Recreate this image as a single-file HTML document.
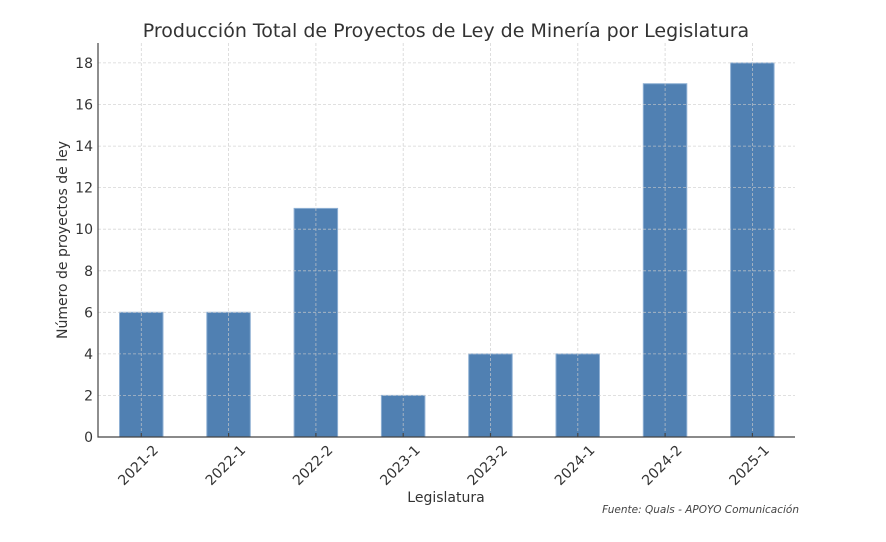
<!DOCTYPE html>
<html><head><style>body{margin:0;background:#fff}svg{display:block}</style></head><body>
<svg width="886" height="542" xmlns="http://www.w3.org/2000/svg" font-family="DejaVu Sans, Liberation Sans, sans-serif">
<rect width="886" height="542" fill="#fff"/>
<text x="446" y="37" text-anchor="middle" font-size="19" fill="#333">Producción Total de Proyectos de Ley de Minería por Legislatura</text>
<g fill="#5080b2" stroke="#8fb0d4" stroke-width="1">
<rect x="119.5" y="312.3" width="43.5" height="124.7"/>
<rect x="206.8" y="312.3" width="43.5" height="124.7"/>
<rect x="294.1" y="208.4" width="43.5" height="228.6"/>
<rect x="381.4" y="395.4" width="43.5" height="41.6"/>
<rect x="468.7" y="353.9" width="43.5" height="83.1"/>
<rect x="556" y="353.9" width="43.5" height="83.1"/>
<rect x="643.3" y="83.7" width="43.5" height="353.3"/>
<rect x="730.6" y="62.9" width="43.5" height="374.1"/>
</g>
<g stroke="#ccc" stroke-width="0.8" stroke-dasharray="3,2" opacity="0.8">
<line x1="98" x2="795" y1="395.4" y2="395.4"/><line x1="98" x2="795" y1="353.9" y2="353.9"/>
<line x1="98" x2="795" y1="312.3" y2="312.3"/><line x1="98" x2="795" y1="270.8" y2="270.8"/>
<line x1="98" x2="795" y1="229.2" y2="229.2"/><line x1="98" x2="795" y1="187.6" y2="187.6"/>
<line x1="98" x2="795" y1="146.1" y2="146.1"/><line x1="98" x2="795" y1="104.5" y2="104.5"/>
<line x1="98" x2="795" y1="62.9" y2="62.9"/>
<line x1="141.3" x2="141.3" y1="43" y2="437"/><line x1="228.6" x2="228.6" y1="43" y2="437"/>
<line x1="315.9" x2="315.9" y1="43" y2="437"/><line x1="403.2" x2="403.2" y1="43" y2="437"/>
<line x1="490.5" x2="490.5" y1="43" y2="437"/><line x1="577.8" x2="577.8" y1="43" y2="437"/>
<line x1="665.1" x2="665.1" y1="43" y2="437"/><line x1="752.4" x2="752.4" y1="43" y2="437"/>
</g>
<g stroke="#444" stroke-width="1.2">
<line x1="98" x2="98" y1="43" y2="437.5"/><line x1="97.5" x2="795" y1="437" y2="437"/>
<line x1="141.3" x2="141.3" y1="433" y2="437"/><line x1="228.6" x2="228.6" y1="433" y2="437"/>
<line x1="315.9" x2="315.9" y1="433" y2="437"/><line x1="403.2" x2="403.2" y1="433" y2="437"/>
<line x1="490.5" x2="490.5" y1="433" y2="437"/><line x1="577.8" x2="577.8" y1="433" y2="437"/>
<line x1="665.1" x2="665.1" y1="433" y2="437"/><line x1="752.4" x2="752.4" y1="433" y2="437"/>
</g>
<g font-size="14" fill="#333" text-anchor="end">
<text x="93" y="442">0</text><text x="93" y="400.4">2</text><text x="93" y="358.9">4</text>
<text x="93" y="317.3">6</text><text x="93" y="275.8">8</text><text x="93" y="234.2">10</text>
<text x="93" y="192.6">12</text><text x="93" y="151.1">14</text><text x="93" y="109.5">16</text>
<text x="93" y="67.9">18</text>
</g>
<g font-size="14" fill="#333" text-anchor="end">
<text transform="translate(159,451) rotate(-45)">2021-2</text>
<text transform="translate(246.3,451) rotate(-45)">2022-1</text>
<text transform="translate(333.6,451) rotate(-45)">2022-2</text>
<text transform="translate(420.9,451) rotate(-45)">2023-1</text>
<text transform="translate(508.2,451) rotate(-45)">2023-2</text>
<text transform="translate(595.5,451) rotate(-45)">2024-1</text>
<text transform="translate(682.8,451) rotate(-45)">2024-2</text>
<text transform="translate(770.1,451) rotate(-45)">2025-1</text>
</g>
<text x="446" y="502" text-anchor="middle" font-size="14" fill="#333">Legislatura</text>
<text transform="translate(67,240) rotate(-90)" text-anchor="middle" font-size="14" fill="#333">Número de proyectos de ley</text>
<text x="799" y="513" text-anchor="end" font-size="10.5" font-style="italic" fill="#444">Fuente: Quals - APOYO Comunicación</text>
</svg>
</body></html>
